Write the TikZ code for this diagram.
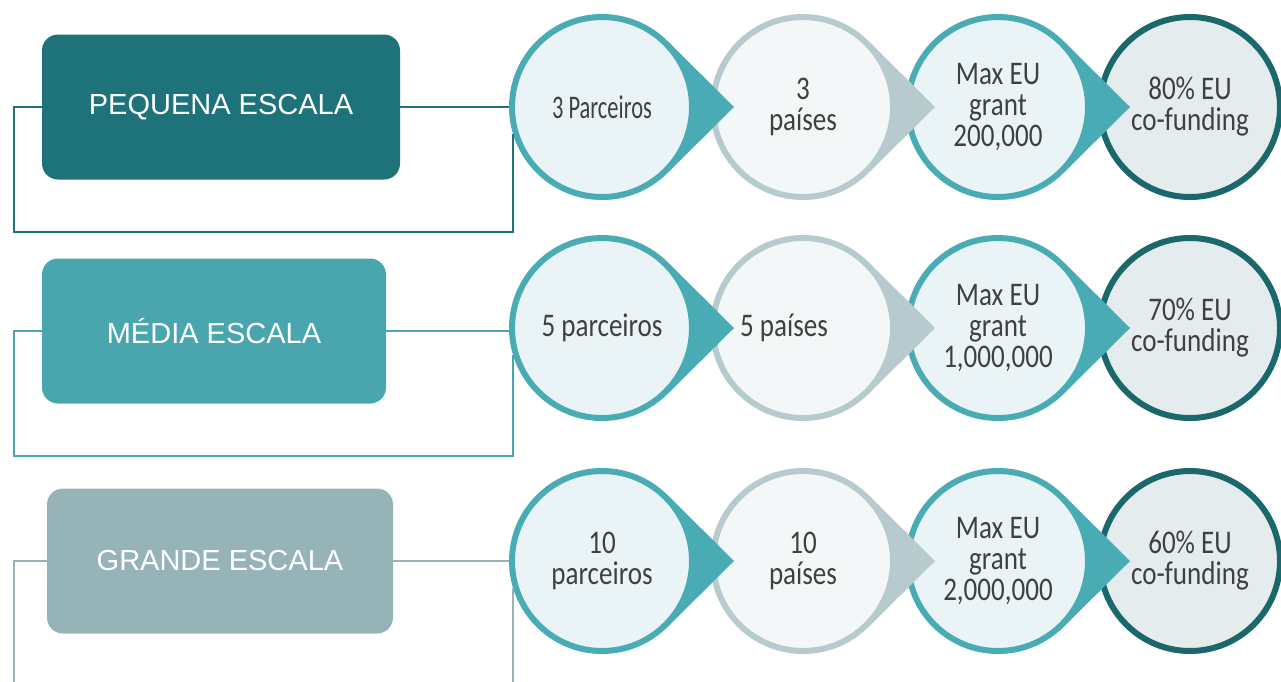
\documentclass[tikz,border=0pt]{standalone}
\usepackage{fontspec}
\setmainfont{Carlito}
\newfontfamily\boxfont{Liberation Sans}
\newfontfamily\bubfont[FakeStretch=0.82]{Carlito}
\newfontfamily\narrowfont[FakeStretch=0.68]{Carlito}
\definecolor{darkteal}{HTML}{1D7379}
\definecolor{midteal}{HTML}{4AA6AE}
\definecolor{greyteal}{HTML}{96B4B8}
\definecolor{ringteal}{HTML}{49ACB5}
\definecolor{ringgrey}{HTML}{B7CACD}
\definecolor{ringdark}{HTML}{1B686C}
\definecolor{fillteal}{HTML}{EAF4F6}
\definecolor{fillgrey}{HTML}{F4F7F7}
\definecolor{filldark}{HTML}{E5ECEE}
\definecolor{txtgrey}{HTML}{404040}

\begin{document}
\begin{tikzpicture}[x=1pt, y=-1pt,
    scale box/.style={rounded corners=16pt, minimum height=145pt, inner sep=0pt,
      text=white, font=\boxfont\fontsize{29}{34}\selectfont},
    bubble/.style={circle, line width=6pt, minimum size=180pt, inner sep=0pt,
      align=center, text=txtgrey, font=\bubfont\fontsize{33}{31}\selectfont},
    link/.style={line width=1.6pt}]
			\useasboundingbox (0,0) rectangle (1281,681);
			\clip (0,0) rectangle (1281,681);
			
			\node[scale box, fill=darkteal, minimum width=358pt] (b1) at (221,107) {PEQUENA ESCALA};
			\node[scale box, fill=midteal, minimum width=344pt] (b2) at (214,331) {MÉDIA ESCALA};
			\node[scale box, fill=greyteal, minimum width=346pt] (b3) at (220,561) {GRANDE ESCALA};
			
			% pequena escala
			\node[bubble, draw=ringdark, fill=filldark] (p14) at (1190,107) {80\% EU\\co-funding};
			\fill[ringteal] (998,107) -- +(44:93) -- +(132,0) -- +(-44:93) -- cycle;
			\node[bubble, draw=ringteal, fill=fillteal] (p13) at (998,107) {Max EU\\grant\\200,000};
			\fill[ringgrey] (803,107) -- +(44:93) -- +(132,0) -- +(-44:93) -- cycle;
			\node[bubble, draw=ringgrey, fill=fillgrey] (p12) at (803,107) {3\\países};
			\fill[ringteal] (602,107) -- +(44:93) -- +(132,0) -- +(-44:93) -- cycle;
			\node[bubble, draw=ringteal, fill=fillteal, font=\narrowfont\fontsize{33}{31}\selectfont] (p11) at (602,107) {3 Parceiros};
			
			% media escala
			\node[bubble, draw=ringdark, fill=filldark] (p24) at (1190,328) {70\% EU\\co-funding};
			\fill[ringteal] (998,328) -- +(44:93) -- +(132,0) -- +(-44:93) -- cycle;
			\node[bubble, draw=ringteal, fill=fillteal] (p23) at (998,328) {Max EU\\grant\\1,000,000};
			\fill[ringgrey] (803,328) -- +(44:93) -- +(132,0) -- +(-44:93) -- cycle;
			\node[bubble, draw=ringgrey, fill=fillgrey] (p22) at (803,328) {5 países\hspace*{38pt}};
			\fill[ringteal] (602,328) -- +(44:93) -- +(132,0) -- +(-44:93) -- cycle;
			\node[bubble, draw=ringteal, fill=fillteal] (p21) at (602,328) {5 parceiros};
			
			% grande escala
			\node[bubble, draw=ringdark, fill=filldark] (p34) at (1190,561) {60\% EU\\co-funding};
			\fill[ringteal] (998,561) -- +(44:93) -- +(132,0) -- +(-44:93) -- cycle;
			\node[bubble, draw=ringteal, fill=fillteal] (p33) at (998,561) {Max EU\\grant\\2,000,000};
			\fill[ringgrey] (803,561) -- +(44:93) -- +(132,0) -- +(-44:93) -- cycle;
			\node[bubble, draw=ringgrey, fill=fillgrey] (p32) at (803,561) {10\\países};
			\fill[ringteal] (602,561) -- +(44:93) -- +(132,0) -- +(-44:93) -- cycle;
			\node[bubble, draw=ringteal, fill=fillteal] (p31) at (602,561) {10\\parceiros};
			
			\coordinate (k1) at (14,232);
			\coordinate (k2) at (14,456);
			\coordinate (k3) at (14,700);
			
			\draw[link, darkteal] (b1.east) -- (b1.east -| p11.west);
			\draw[link, darkteal] (b1.west) -| (k1) -| (p11.197);
			\draw[link, midteal] (b2.east) -- (b2.east -| p21.west);
			\draw[link, midteal] (b2.west) -| (k2) -| (p21.197);
			\draw[link, greyteal] (b3.east) -- (b3.east -| p31.west);
			\draw[link, greyteal] (b3.west) -| (k3) -| (p31.197);
			
\end{tikzpicture}
\end{document}
